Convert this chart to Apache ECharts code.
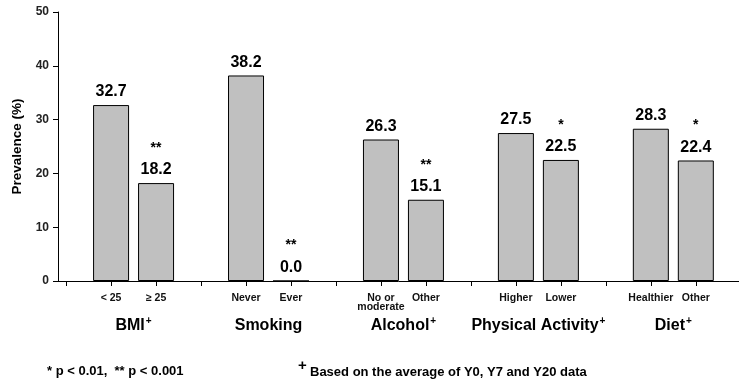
<!DOCTYPE html>
<html>
<head>
<meta charset="utf-8">
<script src="https://cdn.jsdelivr.net/npm/echarts@6/dist/echarts.min.js"></script>
<style>
  html, body { margin: 0; padding: 0; background: #fff; }
  #chart { width: 739px; height: 387px; }
</style>
</head>
<body>
<div id="chart"></div>
<script>
// Slot index of every bar along the x axis; slots 0, 3, 6, 9, 12 stay empty to separate groups
const slots = [1, 2, 4, 5, 7, 8, 10, 11, 13, 14];
const tickSlots = [0, 1, 2, 3, 4, 5, 6, 7, 8, 9, 10, 11, 12, 13, 14];
const categories = ['< 25', '\u2265 25', 'Never', 'Ever', 'No or\nmoderate', 'Other', 'Higher', 'Lower', 'Healthier', 'Other'];
const prevalence = [32.7, 18.2, 38.2, 0.0, 26.3, 15.1, 27.5, 22.5, 28.3, 22.4];
const significance = ['', '**', '', '**', '', '**', '', '*', '', '*'];

const groups = ['BMI', 'Smoking', 'Alcohol', 'Physical Activity', 'Diet'];
const groupAveraged = [true, false, true, true, true];
const groupSlots = [1.5, 4.5, 7.5, 10.5, 13.5];

const yTicks = { min: 0, max: 50, step: 10 };

const FONT = "'Liberation Sans', Arial, Helvetica, sans-serif";

const chart = echarts.init(document.getElementById('chart'), null, { renderer: 'canvas' });

chart.setOption({
  animation: false,
  backgroundColor: '#fff',
  textStyle: { fontFamily: FONT },
  grid: { left: 58, right: 0, top: 12, bottom: 106 },
  xAxis: [
    {
      type: 'value',
      min: -0.18,
      max: 14.96,
      position: 'bottom',
      axisLine: { show: true, onZero: false, lineStyle: { color: '#000', width: 1 } },
      axisTick: { show: true, customValues: tickSlots, length: 5, lineStyle: { color: '#000' } },
      axisLabel: {
        show: true,
        customValues: slots,
        formatter: v => categories[slots.indexOf(v)] || '',
        fontFamily: FONT,
        fontWeight: 'bold',
        fontSize: 10.5,
        lineHeight: 9,
        margin: 13,
        color: '#111'
      },
      splitLine: { show: false }
    },
    {
      type: 'value',
      min: -0.18,
      max: 14.96,
      position: 'bottom',
      axisLine: { show: false },
      axisTick: { show: false },
      axisLabel: {
        show: true,
        customValues: groupSlots,
        formatter: v => {
          const i = groupSlots.indexOf(v);
          return groupAveraged[i] ? '{g|' + groups[i] + '}{p|+}' : '{g|' + groups[i] + '}';
        },
        margin: 35,
        rich: {
          g: { fontFamily: FONT, fontSize: 16, fontWeight: 'bold', color: '#000', lineHeight: 20 },
          p: { fontFamily: FONT, fontSize: 10, fontWeight: 'bold', color: '#000', verticalAlign: 'top', lineHeight: 6, padding: [0, 0, 0, 1] }
        }
      },
      splitLine: { show: false }
    }
  ],
  yAxis: {
    type: 'value',
    min: yTicks.min,
    max: yTicks.max,
    interval: yTicks.step,
    name: 'Prevalence (%)',
    nameLocation: 'middle',
    nameGap: 34,
    nameTextStyle: { fontFamily: FONT, fontSize: 13.5, fontWeight: 'bold', color: '#000' },
    axisLine: { show: true, onZero: false, lineStyle: { color: '#000', width: 1 } },
    axisTick: { show: true, length: 5, lineStyle: { color: '#000' } },
    axisLabel: { fontFamily: FONT, fontSize: 12, fontWeight: 'bold', color: '#222', margin: 9 },
    splitLine: { show: false }
  },
  series: [
    {
      type: 'bar',
      xAxisIndex: 0,
      data: slots.map((s, i) => [s, prevalence[i]]),
      barWidth: 36,
      itemStyle: { color: '#c0c0c0', borderColor: '#000', borderWidth: 1 },
      label: {
        show: true,
        position: 'top',
        distance: 4,
        formatter: p => {
          const sig = significance[p.dataIndex];
          const val = '{v|' + p.value[1].toFixed(1) + '}';
          return sig ? '{s|' + sig + '}\n' + val : val;
        },
        rich: {
          v: { fontFamily: FONT, fontSize: 16, fontWeight: 'bold', color: '#000', lineHeight: 18 },
          s: { fontFamily: FONT, fontSize: 14, fontWeight: 'bold', color: '#000', lineHeight: 26 }
        }
      }
    }
  ],
  graphic: [
    {
      type: 'text',
      left: 47,
      top: 365,
      style: { text: '* p < 0.01,  ** p < 0.001', font: 'bold 13px ' + FONT, fill: '#000' }
    },
    {
      type: 'text',
      left: 298,
      top: 358,
      style: { text: '+', font: 'bold 15px ' + FONT, fill: '#000' }
    },
    {
      type: 'text',
      left: 310,
      top: 366,
      style: { text: 'Based on the average of Y0, Y7 and Y20 data', font: 'bold 13px ' + FONT, fill: '#000' }
    }
  ]
});
</script>
</body>
</html>
